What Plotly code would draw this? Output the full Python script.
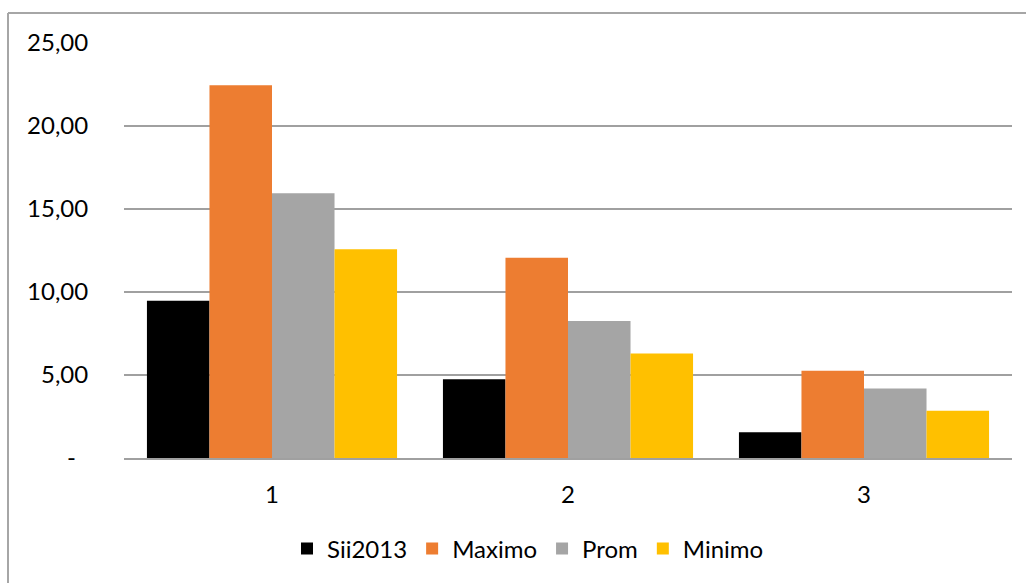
import plotly.graph_objects as go

categories = ["1", "2", "3"]
series_names = ["Sii2013", "Maximo", "Prom", "Minimo"]
sii2013 = [9.47, 4.74, 1.55]
maximo = [22.46, 12.06, 5.26]
prom = [15.95, 8.25, 4.19]
minimo = [12.58, 6.30, 2.85]
colors = ["#000000", "#ED7D31", "#A5A5A5", "#FFC000"]
y_tickvals = [0, 5, 10, 15, 20, 25]
y_ticktext = ["-\u00a0\u00a0", "5,00", "10,00", "15,00", "20,00", "25,00"]

W, H = 1026, 583
L, R, T, B = 124, 14, 43, 125
pw, ph = W - L - R, H - T - B

fig = go.Figure()
for name, vals, col in zip(series_names, [sii2013, maximo, prom, minimo], colors):
    fig.add_trace(go.Bar(x=categories, y=vals, name=name,
                         marker=dict(color=col, line=dict(width=0))))

def px_x(p):
    return (p - L) / pw

def px_y(p):
    return (H - B - p) / ph

fig.update_layout(
    width=W, height=H,
    margin=dict(l=L, r=R, t=T, b=B, pad=0),
    paper_bgcolor="white", plot_bgcolor="white",
    barmode="group", bargap=0.155, bargroupgap=0,
    font=dict(family="Lato", size=24, color="#000000"),
    showlegend=True,
    legend=dict(orientation="h", x=px_x(528), xanchor="center", y=px_y(549), yanchor="middle",
                font=dict(family="Lato", size=24), itemwidth=30, traceorder="normal",
                itemclick=False),
    xaxis=dict(type="category", showgrid=False, showline=True, linecolor="#A0A0A0", linewidth=1.6,
               ticks="outside", ticklen=14, tickcolor="rgba(0,0,0,0)",
               tickfont=dict(family="Lato", size=24)),
    yaxis=dict(range=[0, 25], tickvals=y_tickvals, ticktext=y_ticktext,
               showgrid=True, gridcolor="#A0A0A0", gridwidth=1.5, zeroline=False,
               showline=False, ticks="outside", ticklen=30, tickcolor="rgba(0,0,0,0)",
               tickfont=dict(family="Lato", size=24)),
    shapes=[
        dict(type="line", xref="paper", yref="paper", x0=px_x(8), x1=px_x(1026),
             y0=px_y(13), y1=px_y(13), line=dict(color="#A6A6A6", width=2)),
        dict(type="line", xref="paper", yref="paper", x0=px_x(8), x1=px_x(8),
             y0=px_y(13), y1=px_y(583), line=dict(color="#A6A6A6", width=2)),
    ],
)

fig.write_html("out.html")
